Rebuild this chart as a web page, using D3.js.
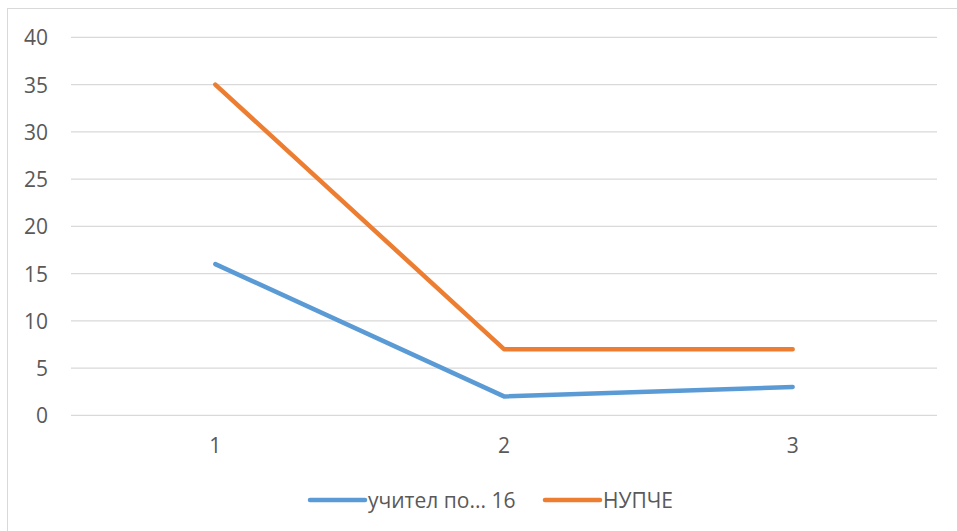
<!DOCTYPE html>
<html><head><meta charset="utf-8">
<script src="https://cdn.jsdelivr.net/npm/d3@7"></script>
<style>body{margin:0;background:#fff}svg{display:block}text{font-family:"Open Sans",sans-serif;fill:#595959}</style>
</head><body>
<svg id="c" width="957" height="531"></svg>
<script>
const categories = ["1","2","3"];
const seriesNames = ["учител по... 16","НУПЧЕ"];
const seriesA = [16, 2, 3];
const seriesB = [35, 7, 7];
const yTicks = [0,5,10,15,20,25,30,35,40];
const colors = ["#5B9BD5","#ED7D31"];
const FS = 21;

const svg = d3.select("#c");
svg.append("rect").attr("x",7.5).attr("y",8.5).attr("width",1000).attr("height",600)
  .attr("fill","none").attr("stroke","#d9d9d9").attr("stroke-width",1);

const x = d3.scaleBand().domain(categories).range([71,937]);
const y = d3.scaleLinear().domain([0,40]).range([415.3,37.3]);

const g = svg.append("g");
g.selectAll("line.grid").data(yTicks).join("line")
  .attr("x1",71).attr("x2",937).attr("y1",d=>y(d)).attr("y2",d=>y(d))
  .attr("stroke","#d9d9d9").attr("stroke-width",1.3);

const yAxis = d3.axisLeft(y).tickValues(yTicks).tickSize(0).tickPadding(0);
const ya = svg.append("g").attr("transform","translate(48,0)").call(yAxis);
ya.select(".domain").remove();
ya.selectAll("text").attr("font-size",FS).attr("fill","#595959").attr("dy","0.36em");

const xAxis = d3.axisBottom(x).tickSize(0).tickPadding(0);
const xa = svg.append("g").attr("transform","translate(0,438)").call(xAxis);
xa.select(".domain").remove();
xa.selectAll("text").attr("font-size",FS).attr("fill","#595959").attr("dy","0.72em");

const line = d3.line().x((d,i)=>x(categories[i])+x.bandwidth()/2).y(d=>y(d));
[seriesA, seriesB].forEach((s,i)=>{
  svg.append("path").datum(s).attr("d",line).attr("fill","none")
    .attr("stroke",colors[i]).attr("stroke-width",4.5)
    .attr("stroke-linecap","round").attr("stroke-linejoin","round");
});

const legendY = 500;
const legendItems = [{x:310},{x:545}];
seriesNames.forEach((n,i)=>{
  const lx = legendItems[i].x;
  svg.append("line").attr("x1",lx).attr("x2",lx+55).attr("y1",legendY).attr("y2",legendY)
    .attr("stroke",colors[i]).attr("stroke-width",4.5).attr("stroke-linecap","round");
  svg.append("text").attr("x",lx+58).attr("y",legendY).attr("dy","0.36em")
    .attr("font-size",FS).text(n);
});
</script>
</body></html>
